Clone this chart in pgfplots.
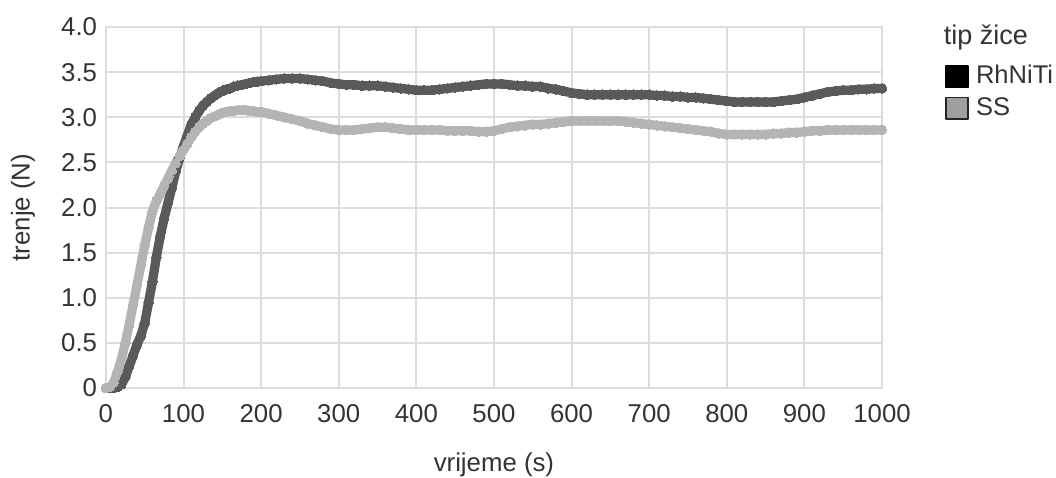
\documentclass[border=0pt]{standalone}
\usepackage{fontspec}
\setmainfont{Liberation Sans}
\usepackage{pgfplots}
\pgfplotsset{compat=1.18}

\definecolor{rhniti}{HTML}{5A5A5A}
\definecolor{ssgray}{HTML}{B4B4B4}
\definecolor{gridc}{HTML}{DCDCDC}

\begin{document}
\begin{tikzpicture}
\begin{axis}[
    scale only axis,
    width=310pt, height=144.2pt,
    xmin=0, xmax=1000, ymin=0, ymax=4,
    xtick={0,100,...,1000},
    ytick={0,0.5,...,4},
    yticklabels={0,0.5,1.0,1.5,2.0,2.5,3.0,3.5,4.0},
    xticklabels={0,100,200,300,400,500,600,700,800,900,1000},
    major tick length=0pt,
    grid=major,
    grid style={gridc, line width=0.8pt},
    axis line style={gridc, line width=0.8pt},
    tick label style={font=\fontsize{10.3}{12}\selectfont, text=black!80},
    xticklabel style={yshift=-3pt},
    label style={font=\fontsize{10.3}{12}\selectfont, text=black!80},
    xlabel={vrijeme (s)},
    ylabel={trenje (N)},
    xlabel style={at={(rel axis cs:0.5,-0.213)}, anchor=center},
    ylabel style={at={(rel axis cs:-0.107,0.5)}, anchor=center},
    legend cell align=left,
    legend style={draw=none, fill=none, at={(rel axis cs:1.0805,0.909)}, anchor=north west,
        font=\fontsize{10.2}{11}\selectfont, text=black!80, row sep=0pt,
        inner sep=0pt,
        /tikz/every odd column/.append style={column sep=1.0pt}},
    clip=false,
]
\addplot[rhniti, line width=3.7pt, line join=round, line cap=round,
    mark=*, mark size=1.9pt, mark options={fill=rhniti, draw=rhniti, line width=0pt},
    legend image code/.code={\draw[black, line width=0.6pt, fill=black] (0pt,-4.3pt) rectangle (8.8pt,4.3pt);}]
coordinates {
(0,0.00) (5,0.00) (10,0.00) (15,0.01) (20,0.04) (25,0.12) (30,0.24) (35,0.36)
(40,0.48) (45,0.58) (50,0.72) (55,0.95) (60,1.18) (65,1.45) (70,1.68) (75,1.88)
(80,2.05) (85,2.22) (90,2.40) (95,2.55) (100,2.68) (105,2.80) (110,2.92) (115,3.00)
(120,3.07) (125,3.13) (130,3.17) (135,3.21) (140,3.24) (145,3.27) (150,3.29) (155,3.31)
(160,3.32) (165,3.34) (170,3.35) (175,3.36) (180,3.37) (185,3.38) (190,3.39) (195,3.395)
(200,3.40) (210,3.41) (220,3.42) (230,3.43) (240,3.43) (250,3.43) (260,3.42) (270,3.41)
(280,3.40) (290,3.38) (300,3.37) (310,3.36) (320,3.36) (330,3.35) (340,3.35) (350,3.35)
(360,3.34) (370,3.33) (380,3.32) (390,3.31) (400,3.30) (410,3.30) (420,3.30) (430,3.31)
(440,3.32) (450,3.33) (460,3.34) (470,3.35) (480,3.36) (490,3.37) (500,3.37) (510,3.37)
(520,3.36) (530,3.35) (540,3.35) (550,3.34) (560,3.34) (570,3.32) (580,3.31) (590,3.29)
(600,3.27) (610,3.26) (620,3.25) (630,3.25) (640,3.25) (650,3.25) (660,3.25) (670,3.25)
(680,3.25) (690,3.25) (700,3.25) (710,3.24) (720,3.24) (730,3.23) (740,3.23) (750,3.22)
(760,3.22) (770,3.21) (780,3.20) (790,3.19) (800,3.18) (810,3.17) (820,3.17) (830,3.17)
(840,3.17) (850,3.17) (860,3.17) (870,3.18) (880,3.19) (890,3.20) (900,3.22) (910,3.24)
(920,3.26) (930,3.28) (940,3.29) (950,3.30) (960,3.30) (970,3.31) (980,3.31) (990,3.32)
(1000,3.32)
};
\addlegendentry{RhNiTi}
\addplot[ssgray, line width=3.7pt, line join=round, line cap=round,
    mark=*, mark size=1.9pt, mark options={fill=ssgray, draw=ssgray, line width=0pt},
    legend image code/.code={\draw[black!85, line width=0.6pt, fill=gray!75] (0pt,-4.3pt) rectangle (8.8pt,4.3pt);}]
coordinates {
(0,0.00) (5,0.01) (10,0.06) (15,0.18) (20,0.32) (25,0.50) (30,0.70) (35,0.92)
(40,1.14) (45,1.36) (50,1.58) (55,1.78) (60,1.96) (65,2.07) (70,2.15) (75,2.24)
(80,2.32) (85,2.41) (90,2.49) (95,2.57) (100,2.64) (105,2.71) (110,2.78) (115,2.84)
(120,2.89) (125,2.93) (130,2.96) (135,2.99) (140,3.01) (145,3.03) (150,3.05) (155,3.06)
(160,3.07) (165,3.07) (170,3.08) (175,3.08) (180,3.08) (185,3.07) (190,3.07) (195,3.06)
(200,3.06) (210,3.04) (220,3.02) (230,3.00) (240,2.98) (250,2.96) (260,2.93) (270,2.91)
(280,2.89) (290,2.87) (300,2.86) (310,2.86) (320,2.86) (330,2.87) (340,2.88) (350,2.89)
(360,2.89) (370,2.88) (380,2.87) (390,2.86) (400,2.86) (410,2.86) (420,2.86) (430,2.86)
(440,2.85) (450,2.85) (460,2.85) (470,2.85) (480,2.84) (490,2.84) (500,2.85) (510,2.87)
(520,2.89) (530,2.90) (540,2.91) (550,2.92) (560,2.92) (570,2.93) (580,2.94) (590,2.95)
(600,2.96) (610,2.96) (620,2.96) (630,2.96) (640,2.96) (650,2.96) (660,2.96) (670,2.95)
(680,2.94) (690,2.93) (700,2.92) (710,2.91) (720,2.90) (730,2.89) (740,2.88) (750,2.87)
(760,2.86) (770,2.85) (780,2.84) (790,2.82) (800,2.81) (810,2.81) (820,2.81) (830,2.81)
(840,2.81) (850,2.81) (860,2.82) (870,2.82) (880,2.83) (890,2.83) (900,2.84) (910,2.85)
(920,2.85) (930,2.86) (940,2.86) (950,2.86) (960,2.86) (970,2.86) (980,2.86) (990,2.86)
(1000,2.86)
};
\addlegendentry{SS}
\node[anchor=west, font=\fontsize{10.8}{12}\selectfont, text=black!80, inner sep=0pt]
    at (rel axis cs:1.079,0.970) {tip žice};
\end{axis}
\pgfresetboundingbox
\path ([shift={(-42.3pt,-35.6pt)}]current axis.south west)
    rectangle ([shift={(69.5pt,10.8pt)}]current axis.north east);
\end{tikzpicture}
\end{document}
